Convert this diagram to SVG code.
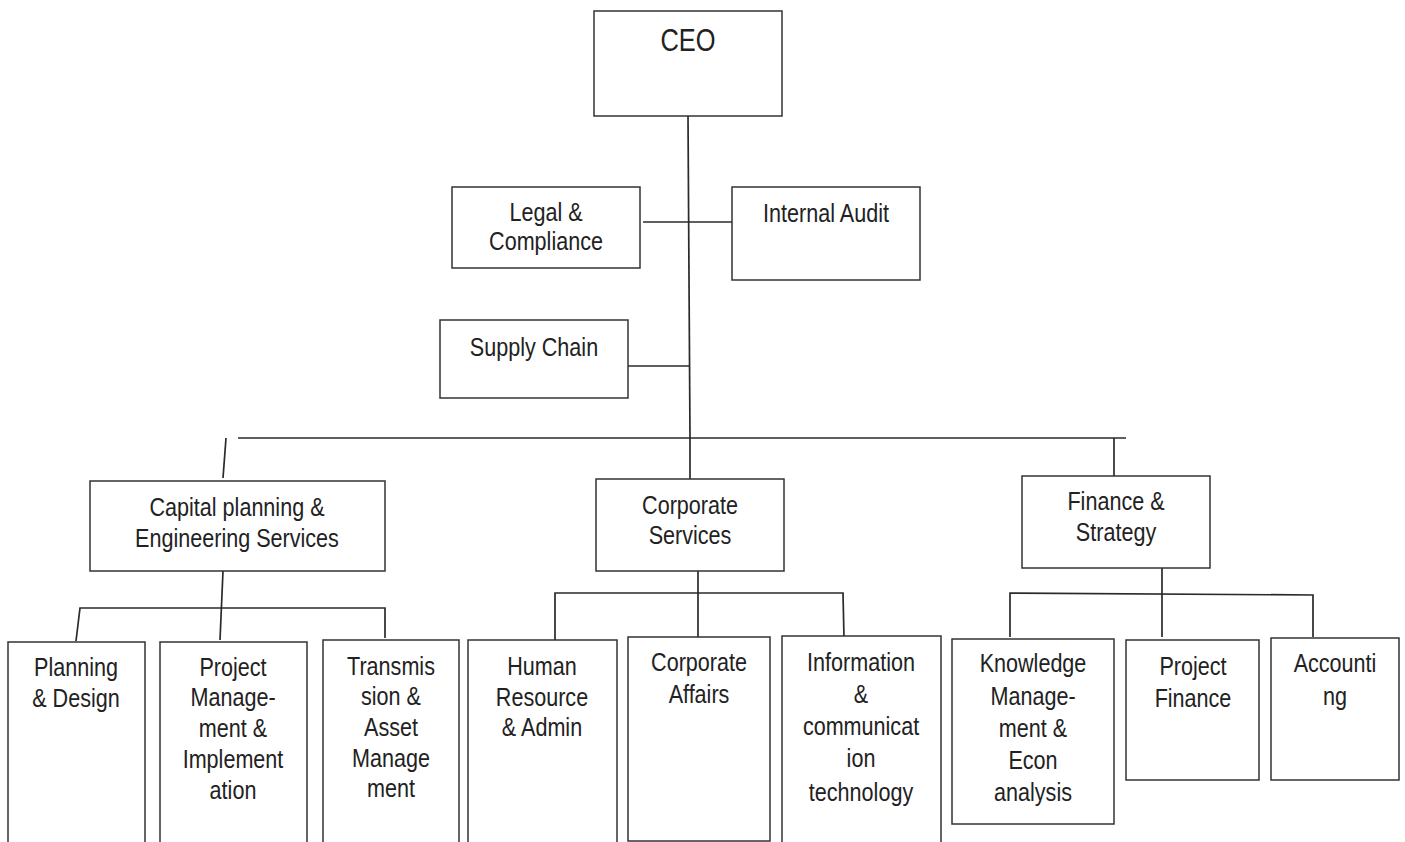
<svg xmlns="http://www.w3.org/2000/svg" width="1405" height="842" viewBox="0 0 1405 842">
<style>
.box{fill:#fff;stroke:#333;stroke-width:1.5}
.ln{fill:none;stroke:#2a2a2a;stroke-width:1.7}
text{font-family:"Liberation Sans",Arial,sans-serif;font-size:26px;fill:#222;text-anchor:middle}
.big{font-size:31px}
</style>
<rect width="1405" height="842" fill="#fff"/>
<g id="connectors">
<line class="ln" x1="688" y1="116" x2="690" y2="438"/>
<line class="ln" x1="643" y1="222" x2="732" y2="222"/>
<line class="ln" x1="628" y1="366" x2="689" y2="366"/>
<line class="ln" x1="238" y1="438" x2="1126" y2="438"/>
<line class="ln" x1="226" y1="438" x2="223" y2="478"/>
<line class="ln" x1="690" y1="438" x2="690" y2="479"/>
<line class="ln" x1="1114" y1="438" x2="1114" y2="476"/>
<line class="ln" x1="223" y1="571" x2="220" y2="640"/>
<polyline class="ln" points="76,641 80,608 385,608 385,638"/>
<line class="ln" x1="698" y1="571" x2="698" y2="637"/>
<polyline class="ln" points="555,641 555,593 843,593 844,638"/>
<line class="ln" x1="1162" y1="568" x2="1162" y2="637"/>
<polyline class="ln" points="1010,637 1010,593 1313,595 1313,637"/>
</g>
<g id="ceo"><rect class="box" x="594" y="11" width="188" height="105"/>
<text class="big" transform="translate(688 0) scale(0.82 1)"><tspan x="0" y="51">CEO</tspan></text></g>
<g id="legal"><rect class="box" x="452" y="187" width="188" height="81"/>
<text transform="translate(546 0) scale(0.83 1)"><tspan x="0" y="221">Legal &amp;</tspan><tspan x="0" y="250">Compliance</tspan></text></g>
<g id="audit"><rect class="box" x="732" y="187" width="188" height="93"/>
<text transform="translate(826 0) scale(0.83 1)"><tspan x="0" y="222">Internal Audit</tspan></text></g>
<g id="supply"><rect class="box" x="440" y="320" width="188" height="78"/>
<text transform="translate(534 0) scale(0.83 1)"><tspan x="0" y="356">Supply Chain</tspan></text></g>
<g id="capital"><rect class="box" x="90" y="481" width="295" height="90"/>
<text transform="translate(237 0) scale(0.83 1)"><tspan x="0" y="516">Capital planning &amp;</tspan><tspan x="0" y="547">Engineering Services</tspan></text></g>
<g id="corporate"><rect class="box" x="596" y="479" width="188" height="92"/>
<text transform="translate(690 0) scale(0.83 1)"><tspan x="0" y="514">Corporate</tspan><tspan x="0" y="544">Services</tspan></text></g>
<g id="finance"><rect class="box" x="1022" y="476" width="188" height="92"/>
<text transform="translate(1116 0) scale(0.83 1)"><tspan x="0" y="510">Finance &amp;</tspan><tspan x="0" y="541">Strategy</tspan></text></g>
<g id="planning"><rect class="box" x="8" y="642" width="137" height="210"/>
<text transform="translate(76 0) scale(0.83 1)"><tspan x="0" y="676">Planning</tspan><tspan x="0" y="707">&amp; Design</tspan></text></g>
<g id="projmgmt"><rect class="box" x="160" y="642" width="147" height="210"/>
<text transform="translate(233 0) scale(0.83 1)"><tspan x="0" y="676">Project</tspan><tspan x="0" y="706">Manage-</tspan><tspan x="0" y="737">ment &amp;</tspan><tspan x="0" y="768">Implement</tspan><tspan x="0" y="799">ation</tspan></text></g>
<g id="transmission"><rect class="box" x="323" y="640" width="136" height="212"/>
<text transform="translate(391 0) scale(0.83 1)"><tspan x="0" y="675">Transmis</tspan><tspan x="0" y="705">sion &amp;</tspan><tspan x="0" y="736">Asset</tspan><tspan x="0" y="767">Manage</tspan><tspan x="0" y="797">ment</tspan></text></g>
<g id="hr"><rect class="box" x="468" y="640" width="149" height="212"/>
<text transform="translate(542 0) scale(0.83 1)"><tspan x="0" y="675">Human</tspan><tspan x="0" y="706">Resource</tspan><tspan x="0" y="736">&amp; Admin</tspan></text></g>
<g id="affairs"><rect class="box" x="628" y="637" width="142" height="204"/>
<text transform="translate(699 0) scale(0.83 1)"><tspan x="0" y="671">Corporate</tspan><tspan x="0" y="703">Affairs</tspan></text></g>
<g id="ict"><rect class="box" x="782" y="636" width="159" height="216"/>
<text transform="translate(861 0) scale(0.83 1)"><tspan x="0" y="671">Information</tspan><tspan x="0" y="703">&amp;</tspan><tspan x="0" y="735">communicat</tspan><tspan x="0" y="767">ion</tspan><tspan x="0" y="801">technology</tspan></text></g>
<g id="knowledge"><rect class="box" x="952" y="639" width="162" height="185"/>
<text transform="translate(1033 0) scale(0.83 1)"><tspan x="0" y="672">Knowledge</tspan><tspan x="0" y="705">Manage-</tspan><tspan x="0" y="737">ment &amp;</tspan><tspan x="0" y="769">Econ</tspan><tspan x="0" y="801">analysis</tspan></text></g>
<g id="projfinance"><rect class="box" x="1126" y="640" width="133" height="140"/>
<text transform="translate(1193 0) scale(0.83 1)"><tspan x="0" y="675">Project</tspan><tspan x="0" y="707">Finance</tspan></text></g>
<g id="accounting"><rect class="box" x="1271" y="638" width="128" height="142"/>
<text transform="translate(1335 0) scale(0.83 1)"><tspan x="0" y="672">Accounti</tspan><tspan x="0" y="705">ng</tspan></text></g>
</svg>
